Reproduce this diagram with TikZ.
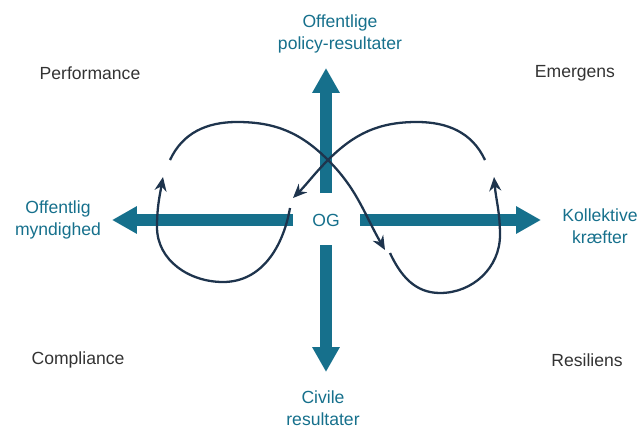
\documentclass[tikz,border=0pt]{standalone}
\usepackage{xcolor}
\usepackage{fontspec}
\setmainfont{Liberation Sans}
\usepackage{tikz}
\usetikzlibrary{arrows.meta}
\definecolor{ogteal}{RGB}{22,112,140}
\definecolor{ognavy}{RGB}{30,52,77}

\begin{document}
\begin{tikzpicture}[x=0.02cm,y=0.02cm]
  \useasboundingbox (0,0) rectangle (640,427);
  \node[text=ogteal,font=\fontsize{10}{12}\selectfont] (og) at (326,207) {OG};
  \begin{scope}[every node/.style={text=ogteal,align=center,font=\fontsize{10}{12.5}\selectfont}]
  \node (offpol) at (340,393) {Offentlige\\policy-resultater};
  \node (civil) at (323,19) {Civile\\resultater};
  \node (offmyn) at (58,207) {Offentlig\\myndighed};
  \node (kollek) at (600,201) {Kollektive\\kræfter};
  \end{scope}
  \begin{scope}[every node/.style={text=black!80,font=\fontsize{10}{12}\selectfont}]
  \node (perf) at (90,354) {Performance};
  \node (emer) at (575,354) {Emergens};
  \node (compl) at (78,67) {Compliance};
  \node (resil) at (587,67) {Resiliens};
  \end{scope}
  % axis ends
  \coordinate (upS) at (326,234);  \coordinate (upT) at (326,359);
  \coordinate (dnS) at (326,182);  \coordinate (dnT) at (326,55);
  \coordinate (lfS) at (293,207);  \coordinate (lfT) at (112,207);
  \coordinate (rtS) at (360,207);  \coordinate (rtT) at (541,207);
  \begin{scope}[line width=0.24cm,draw=ogteal,-{Triangle[length=0.5cm,width=0.52cm,fill=ogteal]}]
  \draw (upS) -- (upT);
  \draw (dnS) -- (dnT);
  \draw (lfS) -- (lfT);
  \draw (rtS) -- (rtT);
  \end{scope}
  % the loop
  \coordinate (cross) at (328,267);
  \begin{scope}[ognavy,line width=1.3pt,-{Stealth[length=0.28cm,width=0.24cm]}]
  \draw (170,267) to[out=65,in=180] (237,305) to[out=0,in=135] (cross)
        to[out=-45,in=120] (385,177);
  \draw (390,174) to[out=-65,in=180] (440,134) to[out=0,in=-90] (500,192)
        to[out=90,in=-85] (494,250);
  \draw (485,267) to[out=115,in=0] (417,305) to[out=180,in=45] (cross)
        to[out=-135,in=45] (293,229);
  \draw (290,219) to[out=-100,in=0] (223,145) to[out=180,in=-90] (157,200)
        to[out=90,in=-100] (163,250);
  \end{scope}
\end{tikzpicture}
\end{document}
